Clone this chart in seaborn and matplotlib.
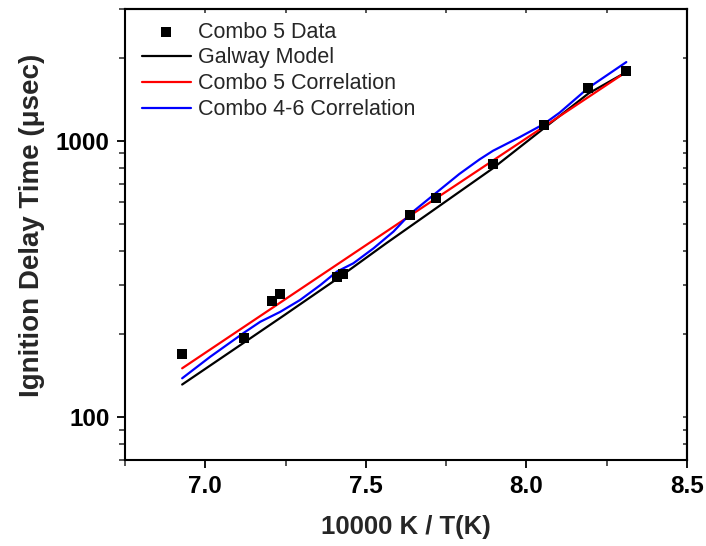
import numpy as np
import pandas as pd
import matplotlib
matplotlib.use("Agg")
import matplotlib.pyplot as plt
import matplotlib.ticker as mticker
import seaborn as sns

# ---- data ----
data_x = [6.928, 7.121, 7.207, 7.234, 7.410, 7.429, 7.637, 7.718, 7.895, 8.054, 8.193, 8.309]
data_y = [169, 193, 262, 279, 321, 329, 537, 622, 824, 1137, 1548, 1788]

galway_x = [6.928, 7.121, 7.247, 7.410, 7.563, 7.718, 7.895, 8.054, 8.193, 8.309]
galway_y = [131, 186, 234, 316, 425, 569, 794, 1109, 1483, 1768]

c5_x = [6.928, 7.637, 8.309]
c5_y = [150, 535, 1770]

c46_x = [6.928, 7.015, 7.121, 7.171, 7.233, 7.295, 7.358, 7.410, 7.461, 7.524,
         7.586, 7.637, 7.719, 7.791, 7.854, 7.896, 7.978, 8.054, 8.103, 8.193, 8.311]
c46_y = [138, 165, 202, 221, 240, 265, 300, 336, 360, 408,
         469, 542, 648, 758, 856, 920, 1029, 1149, 1263, 1555, 1927]

x_ticks = [7.0, 7.5, 8.0, 8.5]
y_ticks = [100, 1000]
x_label = "10000 K / T(K)"
y_label = "Ignition Delay Time (\u03bcsec)"

sns.set_style("ticks")
plt.rcParams["font.family"] = ["Liberation Sans", "DejaVu Sans"]

fig = plt.figure(figsize=(7.06, 5.46), dpi=100)
ax = fig.add_axes([125/706, 1-459.7/546, (687-125)/706, (459.7-9)/546])

df_data = pd.DataFrame({"x": data_x, "y": data_y})
df_g = pd.DataFrame({"x": galway_x, "y": galway_y})
df_c5 = pd.DataFrame({"x": c5_x, "y": c5_y})
df_c46 = pd.DataFrame({"x": c46_x, "y": c46_y})

sns.lineplot(data=df_g, x="x", y="y", ax=ax, color="black", lw=1.6, sort=False,
             estimator=None, label="Galway Model")
sns.lineplot(data=df_c5, x="x", y="y", ax=ax, color="#ff0000", lw=1.6, sort=False,
             estimator=None, label="Combo 5 Correlation")
sns.lineplot(data=df_c46, x="x", y="y", ax=ax, color="#0000ff", lw=1.6, sort=False,
             estimator=None, label="Combo 4-6 Correlation")
sns.scatterplot(data=df_data, x="x", y="y", ax=ax, marker="s", s=52, color="black",
                edgecolor="none", label="Combo 5 Data", zorder=5)

ax.set_yscale("log")
ax.set_xlim(6.75, 8.5)
ax.set_ylim(70, 3000)

ax.xaxis.set_major_locator(mticker.FixedLocator(x_ticks))
ax.xaxis.set_minor_locator(mticker.MultipleLocator(0.25))
ax.xaxis.set_major_formatter(mticker.FormatStrFormatter("%.1f"))
ax.yaxis.set_major_locator(mticker.FixedLocator(y_ticks))
ax.yaxis.set_minor_locator(mticker.LogLocator(base=10, subs=np.arange(2, 10)))
ax.yaxis.set_major_formatter(mticker.FuncFormatter(lambda v, p: f"{int(round(v))}"))
ax.yaxis.set_minor_formatter(mticker.NullFormatter())

for sp in ax.spines.values():
    sp.set_visible(True)
    sp.set_linewidth(1.5)
    sp.set_color("black")

ax.tick_params(axis="both", which="major", direction="out", length=6, width=1.3,
               labelsize=17.5, pad=5, colors="black")
ax.tick_params(axis="both", which="minor", direction="out", length=4, width=1.1)
for lab in ax.get_xticklabels() + ax.get_yticklabels():
    lab.set_fontweight("bold")

# mirrored inward ticks on top and right
secx = ax.secondary_xaxis("top")
secx.xaxis.set_major_locator(mticker.FixedLocator(x_ticks))
secx.xaxis.set_minor_locator(mticker.MultipleLocator(0.25))
secx.tick_params(which="both", direction="in", length=3, width=1.1, labeltop=False)
secx.spines["top"].set_linewidth(1.5)
secy = ax.secondary_yaxis("right")
secy.yaxis.set_major_locator(mticker.FixedLocator(y_ticks))
secy.yaxis.set_minor_locator(mticker.LogLocator(base=10, subs=np.arange(2, 10)))
secy.tick_params(which="both", direction="in", length=3, width=1.1, labelright=False)
secy.spines["right"].set_linewidth(1.5)

ax.set_xlabel(x_label, fontsize=18.5, fontweight="bold", labelpad=12)
ax.set_ylabel(y_label, fontsize=20, fontweight="bold")
ax.yaxis.set_label_coords(-(125 - 45) / 562, (459.7 - 225) / 450.7)

h, l = ax.get_legend_handles_labels()
order = [l.index("Combo 5 Data"), l.index("Galway Model"),
         l.index("Combo 5 Correlation"), l.index("Combo 4-6 Correlation")]
leg = ax.legend([h[i] for i in order], [l[i] for i in order], loc="upper left",
                bbox_to_anchor=((141.7-125)/562, 1 - 12.5/450.7), borderaxespad=0,
                borderpad=0, frameon=False, fontsize=15.5, handlelength=2.3,
                handletextpad=0.3, labelspacing=0.23, markerscale=1.0)

fig.savefig("out.png", dpi=100)
